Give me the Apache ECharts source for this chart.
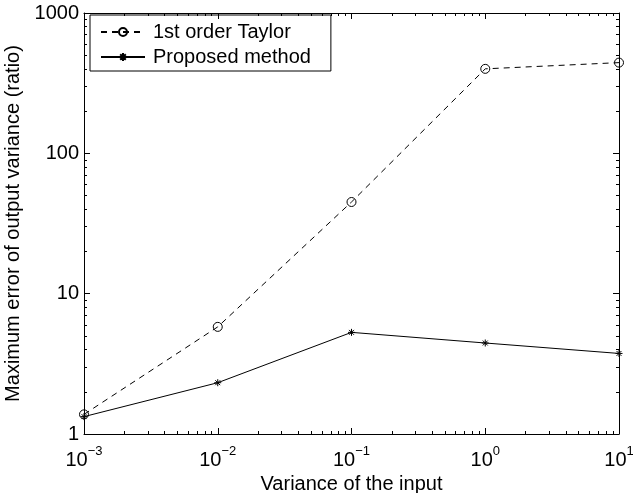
<!DOCTYPE html>
<html>
<head>
<meta charset="utf-8">
<script src="https://cdn.jsdelivr.net/npm/echarts@6/dist/echarts.min.js"></script>
<style>
    html, body { margin: 0; padding: 0; background: #fff; }
    #chart { width: 633px; height: 493px; }
</style>
</head>
<body>
<div id="chart"></div>
<script>
const inputVariance = [0.001, 0.01, 0.1, 1, 10];
const unscented = [4.9, 25, 77, 400, 385];
const taylor = [1.38, 5.8, 45, 400, 443];
const proposed = [1.33, 2.32, 5.3, 4.45, 3.75];

const xDecades = [0.001, 0.01, 0.1, 1, 10];
const yDecades = [1, 10, 100, 1000];

const FONT = 'Liberation Sans, Arial, Helvetica, sans-serif';
const PLUS = 'path://M0,5L10,5M5,0L5,10';
const STAR = 'path://M0,5L10,5M5,0L5,10M1.5,1.5L8.5,8.5M1.5,8.5L8.5,1.5';

function pairs(ys) {
    return inputVariance.map((x, i) => [x, ys[i]]);
}

// major ticks at the decades (length 6), minor at 2..9 (length 3)
function decadeTicks(decades) {
    let ticks = [];
    decades.forEach((d, i) => {
        ticks.push([d, 6]);
        if (i < decades.length - 1) {
            for (let k = 2; k <= 9; k++) ticks.push([d * k, 3]);
        }
    });
    return ticks;
}

const axisLine = { show: true, lineStyle: { color: '#000', width: 1 } };

const chart = echarts.init(document.getElementById('chart'));

chart.setOption({
    animation: false,
    backgroundColor: '#fff',
    textStyle: { fontFamily: FONT, color: '#000' },
    grid: {
        left: 84, right: 14, top: 13, bottom: 59,
        outerBoundsMode: 'none'
    },
    legend: {
        data: ['Unscented transform', '1st order Taylor', 'Proposed method'],
        orient: 'vertical',
        left: 90,
        top: 15,
        padding: [7, 20, 4, 10],
        itemGap: 5,
        itemWidth: 44,
        itemHeight: 10,
        backgroundColor: '#fff',
        borderColor: '#000',
        borderWidth: 1,
        borderRadius: 0,
        textStyle: { fontSize: 20, color: '#000', fontFamily: FONT, padding: [0, 0, 0, 3] }
    },
    xAxis: [{
        type: 'log',
        logBase: 10,
        min: 0.001,
        max: 10,
        name: 'Variance of the input',
        nameLocation: 'middle',
        nameGap: 26,
        nameTextStyle: { fontSize: 20, color: '#000', fontFamily: FONT },
        axisLine: axisLine,
        axisTick: { show: false },
        splitLine: { show: false },
        minorTick: { show: false },
        axisLabel: {
            margin: 6,
            formatter: v => '{b|10}{s|' + String(Math.round(Math.log10(v))).replace('-', '\u2212') + '}',
            rich: {
                b: { fontSize: 20, color: '#000', fontFamily: FONT, padding: [10, 0, 0, 0] },
                s: { fontSize: 13, color: '#000', fontFamily: FONT, padding: [0, 0, 8, 0] }
            }
        }
    }, {
        type: 'log',
        logBase: 10,
        min: 0.001,
        max: 10,
        position: 'top',
        axisLine: axisLine,
        axisTick: { show: false },
        axisLabel: { show: false },
        splitLine: { show: false }
    }],
    yAxis: [{
        type: 'log',
        logBase: 10,
        min: 1,
        max: 1000,
        name: 'Maximum error of output variance (ratio)',
        nameLocation: 'middle',
        nameGap: 48,
        nameTextStyle: { fontSize: 20, color: '#000', fontFamily: FONT },
        axisLine: axisLine,
        axisTick: { show: false },
        splitLine: { show: false },
        minorTick: { show: false },
        axisLabel: {
            margin: 5, fontSize: 20, color: '#000', fontFamily: FONT,
            formatter: v => String(Math.round(v))
        }
    }, {
        type: 'log',
        logBase: 10,
        min: 1,
        max: 1000,
        position: 'right',
        axisLine: axisLine,
        axisTick: { show: false },
        axisLabel: { show: false },
        splitLine: { show: false }
    }],
    series: [
        {
            name: 'Unscented transform',
            type: 'line',
            data: pairs(unscented),
            symbol: PLUS,
            symbolSize: 9,
            clip: false,
            lineStyle: { color: '#444', width: 1, type: [1, 2] },
            itemStyle: { color: '#000', borderColor: '#000', borderWidth: 1 }
        },
        {
            name: '1st order Taylor',
            type: 'line',
            data: pairs(taylor),
            symbol: 'circle',
            symbolSize: 9,
            clip: false,
            lineStyle: { color: '#000', width: 1, type: [6, 5] },
            itemStyle: { color: 'rgba(0,0,0,0)', borderColor: '#000', borderWidth: 1 }
        },
        {
            name: 'Proposed method',
            type: 'line',
            data: pairs(proposed),
            symbol: STAR,
            symbolSize: 7,
            clip: false,
            lineStyle: { color: '#000', width: 1, type: 'solid' },
            itemStyle: { color: '#000', borderColor: '#000', borderWidth: 1 }
        }
    ]
});

// inside ticks on all four sides as a lines series; the tick length is
// turned from pixels into data units with the axes' own scales
function addTicks() {
    let segs = [];
    let toPx = p => chart.convertToPixel({ gridIndex: 0 }, p);
    let toData = p => chart.convertFromPixel({ gridIndex: 0 }, p);
    decadeTicks(xDecades).forEach(([v, len]) => {
        let b = toPx([v, 1]);
        let t = toPx([v, 1000]);
        segs.push({ coords: [[v, 1], [v, toData([b[0], b[1] - len])[1]]] });
        segs.push({ coords: [[v, 1000], [v, toData([t[0], t[1] + len])[1]]] });
    });
    decadeTicks(yDecades).forEach(([v, len]) => {
        let l = toPx([0.001, v]);
        let r = toPx([10, v]);
        segs.push({ coords: [[0.001, v], [toData([l[0] + len, l[1]])[0], v]] });
        segs.push({ coords: [[10, v], [toData([r[0] - len, r[1]])[0], v]] });
    });
    chart.setOption({
        series: [{
            name: 'ticks',
            type: 'lines',
            coordinateSystem: 'cartesian2d',
            silent: true,
            z: 10,
            lineStyle: { color: '#000', width: 1, opacity: 1, curveness: 0 },
            data: segs
        }]
    }, { replaceMerge: [] });
}

addTicks();
</script>
</body>
</html>
